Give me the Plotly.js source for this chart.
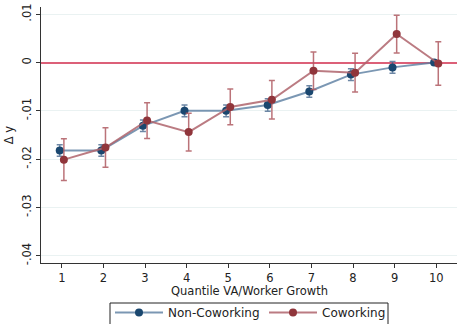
<!DOCTYPE html>
<html>
<head>
<meta charset="utf-8">
<script src="https://cdn.plot.ly/plotly-3.0.1.min.js"></script>
<style>html,body{margin:0;padding:0;background:#fff;}#chart{width:457px;height:324px;}</style>
</head>
<body>
<div id="chart"></div>
<script>
const quantiles = [1,2,3,4,5,6,7,8,9,10];
const nonCoworking = [-0.0182,-0.0182,-0.0131,-0.0100,-0.0100,-0.0088,-0.0060,-0.0025,-0.0010,0.0000];
const nonCoworkingErr = [0.0012,0.0012,0.0012,0.0012,0.0012,0.0013,0.0012,0.0012,0.0012,0.0004];
const coworking = [-0.0201,-0.0176,-0.0120,-0.0144,-0.0092,-0.0077,-0.0017,-0.0021,0.0059,-0.0002];
const coworkingErr = [0.0043,0.0041,0.0037,0.0039,0.0037,0.0040,0.0039,0.0040,0.0039,0.0045];
const yTickVals = [0.01,0,-0.01,-0.02,-0.03,-0.04];
const yTickText = ['.01','0','-.01','-.02','-.03','-.04'];
const xTickVals = [1,2,3,4,5,6,7,8,9,10];
const xTitle = 'Quantile VA/Worker Growth';
const shift = 0.05;

const font = {family:'DejaVu Sans', size:11.5, color:'#222'};

const traces = [
  {
    name:'Non-Coworking', type:'scatter', mode:'lines+markers',
    x: quantiles.map(q=>q-shift), y: nonCoworking,
    line:{color:'rgba(90,125,160,0.8)', width:2},
    marker:{color:'#1a476f', size:8},
    error_y:{type:'data', array:nonCoworkingErr, visible:true, color:'rgba(60,95,135,0.75)', thickness:1.5, width:3}
  },
  {
    name:'Coworking', type:'scatter', mode:'lines+markers',
    x: quantiles.map(q=>q+shift), y: coworking,
    line:{color:'rgba(175,100,108,0.85)', width:2},
    marker:{color:'#90353b', size:8},
    error_y:{type:'data', array:coworkingErr, visible:true, color:'rgba(175,90,98,0.85)', thickness:1.5, width:3}
  }
];

const layout = {
  width:457, height:324,
  margin:{l:41, r:0, t:7, b:61, autoexpand:false},
  paper_bgcolor:'#fff', plot_bgcolor:'#fff',
  font: font,
  showlegend:true,
  legend:{orientation:'h', xref:'container', x:110/457, xanchor:'left',
          yref:'container', y:(324-298)/324, yanchor:'top',
          borderwidth:0, bgcolor:'rgba(0,0,0,0)', font:{family:'DejaVu Sans', size:12, color:'#222'},
          itemwidth:48, entrywidth:91, tracegroupgap:0},
  xaxis:{range:[0.5,10.5], tickvals:xTickVals, ticks:'outside', ticklen:4, tickcolor:'#333',
         ticklabelstandoff:0, tickfont:font,
         showline:true, linecolor:'#333', linewidth:1.3, showgrid:false, zeroline:false, automargin:false},
  yaxis:{range:[-0.0415,0.0115], tickvals:yTickVals, ticktext:yTickText, tickangle:-90, tickfont:font,
         ticks:'outside', ticklen:4, tickcolor:'#333', automargin:false,
         showline:true, linecolor:'#333', linewidth:1.3, showgrid:true, gridcolor:'#eaf2f2', gridwidth:1,
         zeroline:true, zerolinecolor:'#dc6078', zerolinewidth:2,
         title:{text:'Δ y', font:font, standoff:4}},
  annotations:[{text:xTitle, xref:'paper', yref:'paper', x:0.5, xanchor:'center',
                y:(263-291)/256, yanchor:'middle', showarrow:false, font:font, borderpad:0}],
  shapes:[{type:'rect', xref:'paper', yref:'paper',
           x0:(110-41)/416, x1:(388-41)/416, y0:(263-303)/256, y1:(263-340)/256,
           line:{color:'#222', width:1}, fillcolor:'rgba(0,0,0,0)'}]
};

Plotly.newPlot('chart', traces, layout, {displayModeBar:false, staticPlot:true});
</script>
</body>
</html>
